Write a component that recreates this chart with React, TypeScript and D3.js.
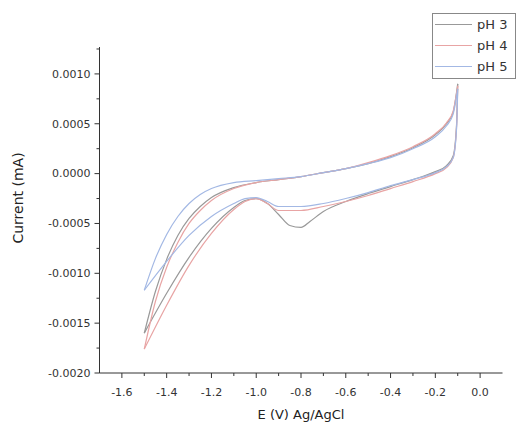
import React from "react";
import * as d3 from "d3";

// ---- Data (E in V vs Ag/AgCl, current in mA) ----
const seriesNames = ["pH 3", "pH 4", "pH 5"];

// Forward (upper) branches, E increasing
const pH3UpperE = [-1.5, -1.45, -1.4, -1.35, -1.3, -1.25, -1.2, -1.1, -1.0, -0.9, -0.8, -0.7, -0.6, -0.5, -0.4, -0.3, -0.2, -0.15, -0.12, -0.1];
const pH3UpperI = [-0.0016, -0.00118, -0.00086, -0.00062, -0.00045, -0.00033, -0.00024, -0.00014, -0.00009, -0.00006, -0.00003, 0.00001, 0.00005, 0.0001, 0.00017, 0.00026, 0.00039, 0.0005, 0.00062, 0.0009];
const pH3LowerE = [-1.5, -1.4, -1.3, -1.2, -1.1, -1.05, -1.0, -0.95, -0.9, -0.85, -0.8, -0.76, -0.7, -0.6, -0.5, -0.4, -0.3, -0.2, -0.15, -0.12, -0.105, -0.1];
const pH3LowerI = [-0.0016, -0.0012, -0.00084, -0.00055, -0.00034, -0.00027, -0.00025, -0.0003, -0.00041, -0.00052, -0.00054, -0.00048, -0.00038, -0.00028, -0.0002, -0.00013, -0.00006, 0.00002, 0.00008, 0.00018, 0.0005, 0.0009];

const pH4UpperE = [-1.5, -1.45, -1.4, -1.35, -1.3, -1.25, -1.2, -1.1, -1.0, -0.9, -0.8, -0.7, -0.6, -0.5, -0.4, -0.3, -0.2, -0.15, -0.12, -0.1];
const pH4UpperI = [-0.00176, -0.00128, -0.00094, -0.00069, -0.0005, -0.00037, -0.00027, -0.00015, -0.00009, -0.00006, -0.00003, 0.00001, 0.00005, 0.00011, 0.00018, 0.00027, 0.0004, 0.00051, 0.00063, 0.00088];
const pH4LowerE = [-1.5, -1.4, -1.3, -1.2, -1.1, -1.05, -1.0, -0.95, -0.9, -0.8, -0.7, -0.6, -0.5, -0.4, -0.3, -0.2, -0.15, -0.12, -0.105, -0.1];
const pH4LowerI = [-0.00176, -0.00132, -0.00092, -0.0006, -0.00036, -0.00028, -0.00025, -0.0003, -0.00037, -0.00037, -0.00033, -0.00028, -0.00022, -0.00015, -0.00008, 0.0, 0.00006, 0.00016, 0.00048, 0.00088];

const pH5UpperE = [-1.5, -1.45, -1.4, -1.35, -1.3, -1.25, -1.2, -1.1, -1.0, -0.9, -0.8, -0.7, -0.6, -0.5, -0.4, -0.3, -0.2, -0.15, -0.12, -0.1];
const pH5UpperI = [-0.00117, -0.00085, -0.00061, -0.00043, -0.0003, -0.00021, -0.00015, -0.00009, -0.00007, -0.00005, -0.00003, 0.00001, 0.00005, 0.0001, 0.00016, 0.00025, 0.00037, 0.00048, 0.0006, 0.00085];
const pH5LowerE = [-1.5, -1.4, -1.3, -1.2, -1.1, -1.05, -1.0, -0.95, -0.9, -0.8, -0.7, -0.6, -0.5, -0.4, -0.3, -0.2, -0.15, -0.12, -0.105, -0.1];
const pH5LowerI = [-0.00117, -0.00088, -0.00062, -0.00043, -0.0003, -0.00025, -0.00024, -0.00028, -0.00033, -0.00033, -0.0003, -0.00025, -0.00019, -0.00012, -0.00006, 0.00001, 0.00007, 0.00016, 0.00046, 0.00085];

const xTickValues = [-1.6, -1.4, -1.2, -1.0, -0.8, -0.6, -0.4, -0.2, 0.0];
const xTickLabels = ["-1.6", "-1.4", "-1.2", "-1.0", "-0.8", "-0.6", "-0.4", "-0.2", "0.0"];
const xMinorValues = [-1.5, -1.3, -1.1, -0.9, -0.7, -0.5, -0.3, -0.1];
const yTickValues = [0.001, 0.0005, 0.0, -0.0005, -0.001, -0.0015, -0.002];
const yTickLabels = ["0.0010", "0.0005", "0.0000", "-0.0005", "-0.0010", "-0.0015", "-0.0020"];
const yMinorValues = [0.00125, 0.00075, 0.00025, -0.00025, -0.00075, -0.00125, -0.00175];

const colors = ["#999999", "#e8a4a4", "#a3b8e4"];

const W = 518;
const H = 423;
const FONT = "'DejaVu Sans', sans-serif";

export default function App() {
  const x = d3.scaleLinear().domain([-1.7, 0.1]).range([99.5, 502.5]);
  const y = d3.scaleLinear().domain([-0.002, 0.00127]).range([373, 47]);

  const line = d3
    .line<[number, number]>()
    .x((d) => x(d[0]))
    .y((d) => y(d[1]))
    .curve(d3.curveMonotoneX);

  const zip = (e: number[], i: number[]) => e.map((v, k) => [v, i[k]] as [number, number]);

  const series = [
    [zip(pH3UpperE, pH3UpperI), zip(pH3LowerE, pH3LowerI)],
    [zip(pH4UpperE, pH4UpperI), zip(pH4LowerE, pH4LowerI)],
    [zip(pH5UpperE, pH5UpperI), zip(pH5LowerE, pH5LowerI)],
  ];

  const axisColor = "#333";
  const x0 = x.range()[0];
  const y0 = y.range()[0];

  return (
    <svg
      width={W}
      height={H}
      style={{ position: "absolute", left: 0, top: 0, background: "#fff" }}
      fontFamily={FONT}
    >
      <rect x={0} y={0} width={W} height={H} fill="#fff" />

      {/* curves */}
      {series.map((branches, si) =>
        branches.map((pts, bi) => (
          <path
            key={`${si}-${bi}`}
            d={line(pts) || ""}
            fill="none"
            stroke={colors[si]}
            strokeWidth={1.2}
          />
        ))
      )}

      {/* y axis */}
      <line x1={x0} x2={x0} y1={y.range()[1]} y2={y0} stroke={axisColor} strokeWidth={1} />
      {yTickValues.map((v, i) => (
        <g key={`yt${i}`}>
          <line x1={x0 - 5} x2={x0} y1={y(v)} y2={y(v)} stroke={axisColor} />
          <text x={x0 - 9} y={y(v)} dy="0.35em" textAnchor="end" fontSize={11} fill="#333">
            {yTickLabels[i]}
          </text>
        </g>
      ))}
      {yMinorValues.map((v, i) => (
        <line key={`ym${i}`} x1={x0 - 3} x2={x0} y1={y(v)} y2={y(v)} stroke={axisColor} />
      ))}

      {/* x axis */}
      <line x1={x0} x2={x.range()[1]} y1={y0} y2={y0} stroke={axisColor} strokeWidth={1} />
      {xTickValues.map((v, i) => (
        <g key={`xt${i}`}>
          <line x1={x(v)} x2={x(v)} y1={y0} y2={y0 + 5} stroke={axisColor} />
          <text x={x(v)} y={y0 + 23} textAnchor="middle" fontSize={11} fill="#333">
            {xTickLabels[i]}
          </text>
        </g>
      ))}
      {xMinorValues.map((v, i) => (
        <line key={`xm${i}`} x1={x(v)} x2={x(v)} y1={y0} y2={y0 + 3} stroke={axisColor} />
      ))}

      {/* axis titles */}
      <text x={301} y={419} textAnchor="middle" fontSize={13} fill="#222">
        E (V) Ag/AgCl
      </text>
      <text
        transform="translate(23,198) rotate(-90)"
        textAnchor="middle"
        fontSize={14}
        fill="#222"
      >
        Current (mA)
      </text>

      {/* legend */}
      <rect x={432.5} y={13.5} width={83} height={65} fill="#fff" stroke="#888" strokeWidth={1} />
      {seriesNames.map((name, i) => (
        <g key={`lg${i}`}>
          <line x1={435} x2={472} y1={24.5 + i * 21} y2={24.5 + i * 21} stroke={colors[i]} strokeWidth={1.2} />
          <text x={477} y={24.5 + i * 21} dy="0.35em" fontSize={13} fill="#333">
            {name}
          </text>
        </g>
      ))}
    </svg>
  );
}
